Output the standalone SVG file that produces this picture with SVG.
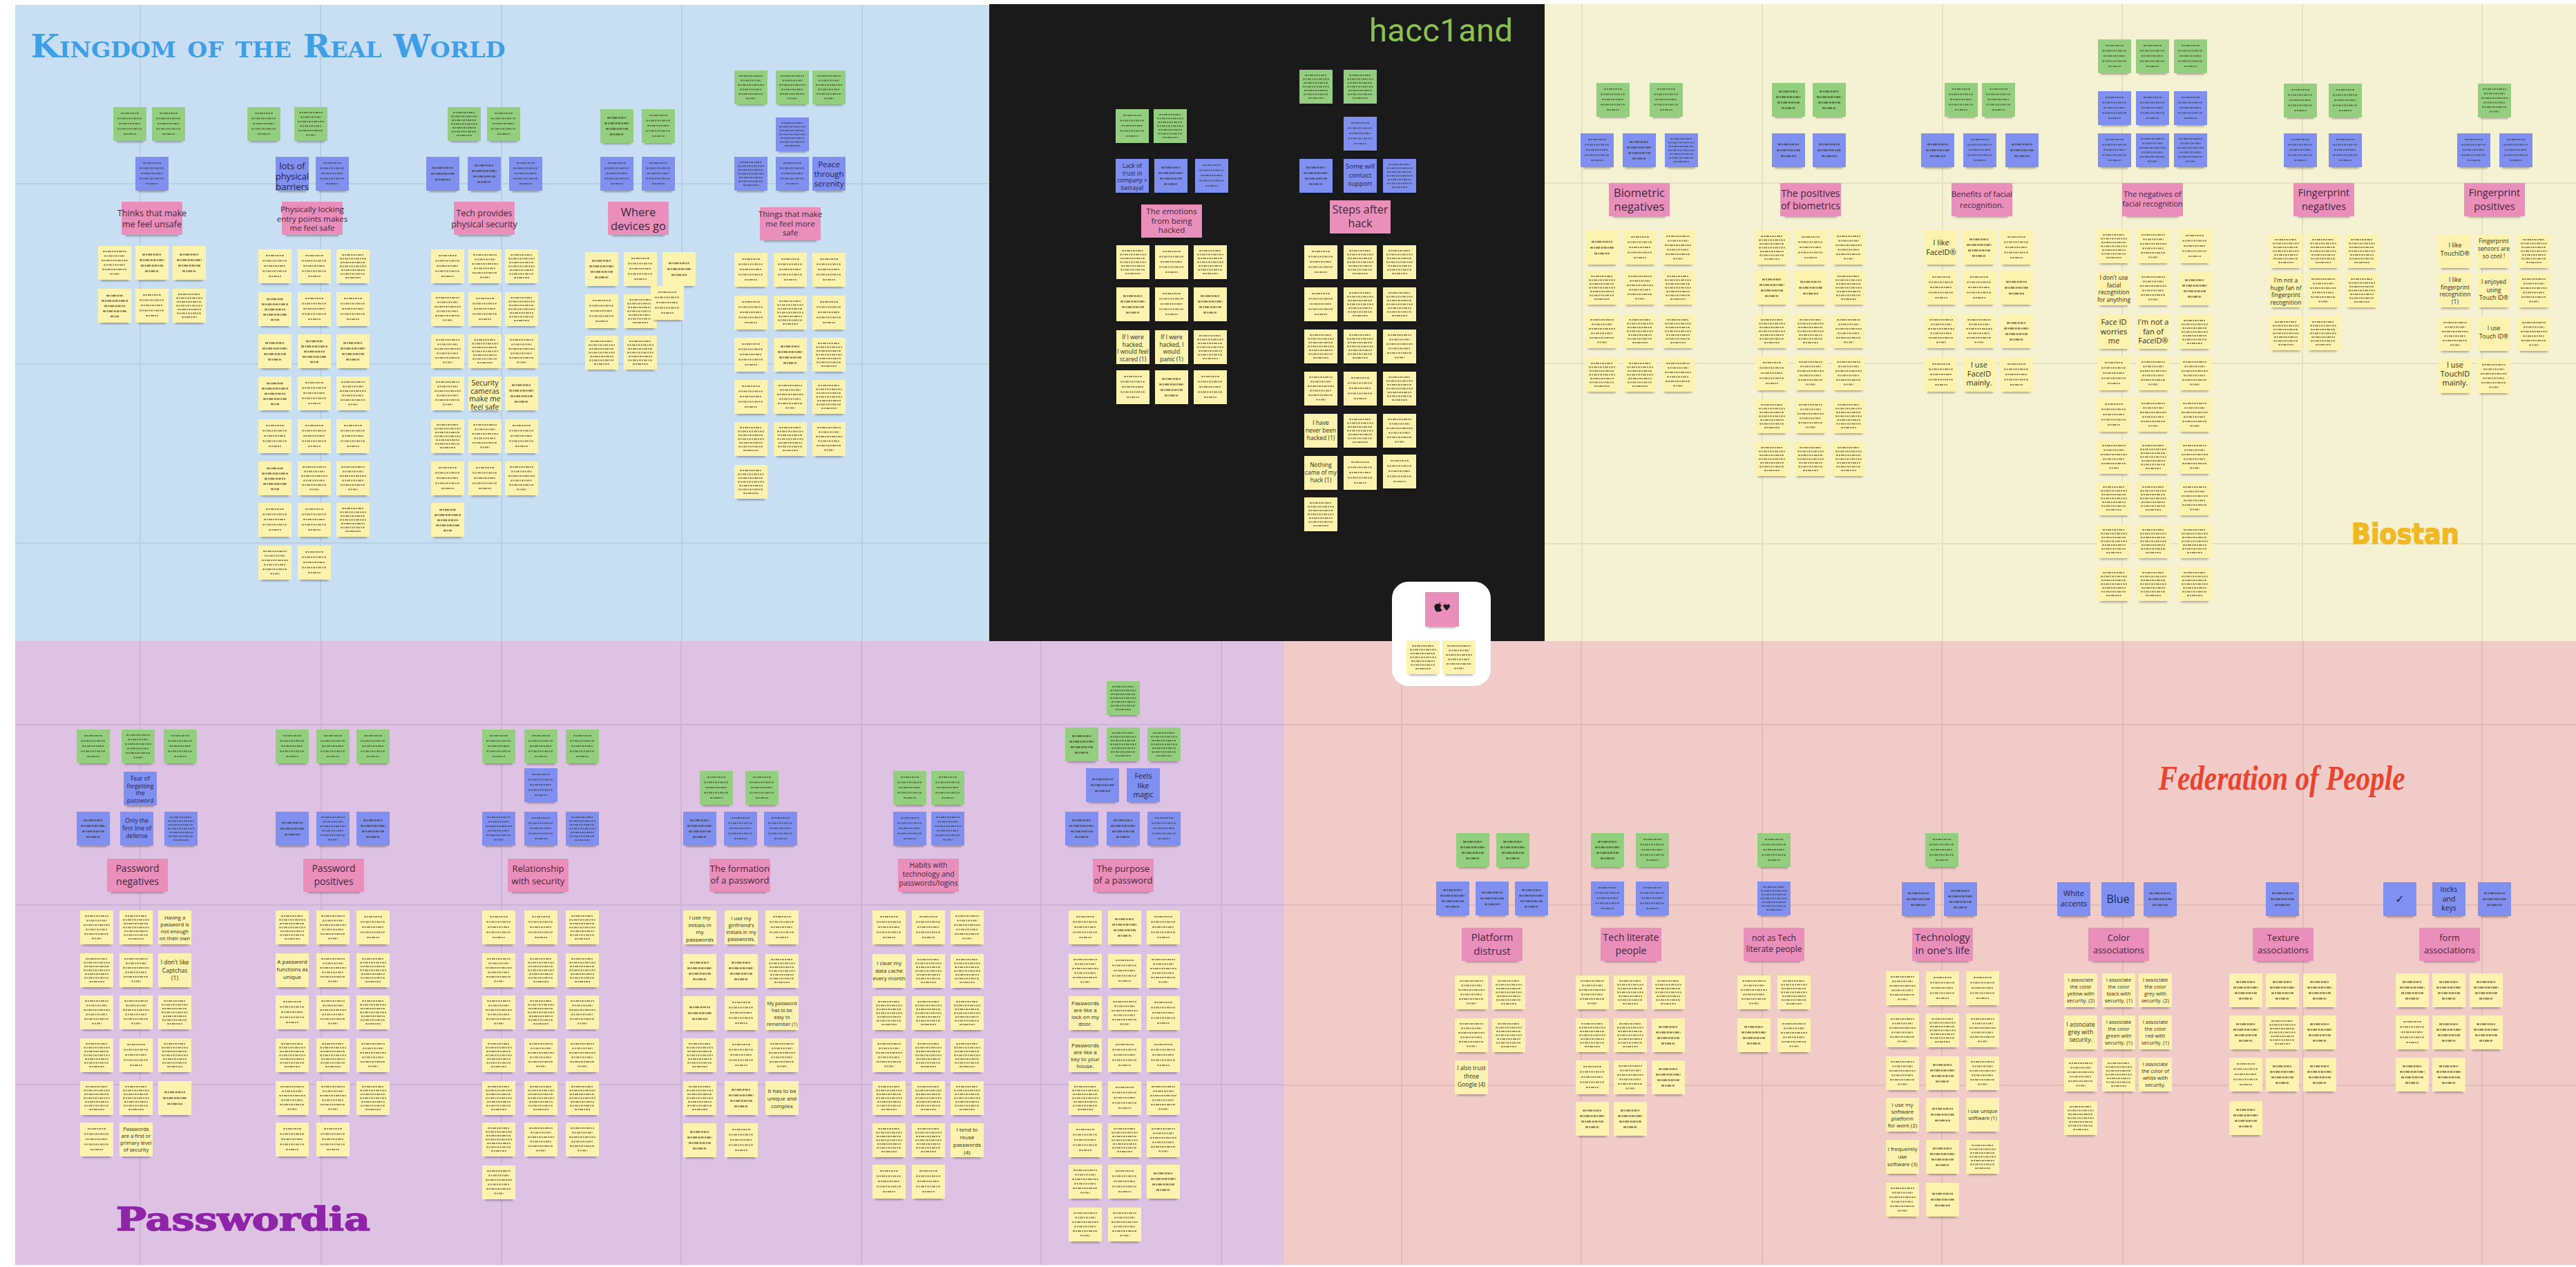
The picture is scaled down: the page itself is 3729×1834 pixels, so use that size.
<svg xmlns="http://www.w3.org/2000/svg" width="3729" height="1834" viewBox="0 0 3729 1834">
<style>
svg{font-size:10px}
.y{fill:#fdf3ae}.g{fill:#93cf7e}.b{fill:#7f90f0}.p{fill:#e98fba}
.sh{fill:#000;opacity:.3;filter:url(#bl)}
.gk{fill:none;stroke:#2c2a14;stroke-width:2.6;stroke-dasharray:4 1.2 2 1 6 1.4 3 1;opacity:.55;filter:url(#sf)}
.gs{fill:none;stroke:#2c2a14;stroke-width:1.8;stroke-dasharray:3 1 2 1 5 1 2 1;opacity:.5;filter:url(#sf)}
.ln{fill:none;stroke:#000;stroke-opacity:.07;stroke-width:2}
text{font-family:"Open Sans","Noto Sans",sans-serif;text-anchor:middle}
.s{fill:#2f2d18}
.m{fill:#1c2250}
.l{fill:#43263a}
</style>
<defs>
<filter id="bl" x="-20%" y="-100%" width="140%" height="300%"><feGaussianBlur stdDeviation="1.8"/></filter>
<filter id="sf" x="-10%" y="-10%" width="120%" height="120%"><feGaussianBlur stdDeviation=".45"/></filter>
<g id="t0"><rect class="sh" x="4" y="45" width="40" height="6"/><rect width="48" height="49"/></g>
<g id="t3"><use href="#t0"/><path class="gk" d="M9 16h30M7 24.500h34M13 33h22"/></g>
<g id="t4"><use href="#t0"/><path class="gk" d="M10 12.500h28M6 20.500h36M8 28.500h32M14 36.500h20"/></g>
<g id="t5"><use href="#t0"/><path class="gs" d="M11 9h26M6 16.500h36M8 24h32M6 31.500h36M15 39h18"/></g>
<g id="t6"><use href="#t0"/><path class="gs" d="M7 8h34M9 14.500h30M5 21h38M8 27.500h32M6 34h36M17 40.500h14"/></g>
<g id="t7"><use href="#t0"/><path class="gs" d="M8 8h32M5 13.500h38M6 19h36M5 24.500h38M7 30h34M6 35.500h36M13 41h22"/></g>
<g id="t8"><use href="#t0"/><path class="gk" d="M12 10h24M5 17.500h38M9 25h30M7 32.500h34M18 40h12"/></g>
<g id="tp"><rect class="sh" x="6" y="44" width="76" height="6"/><rect width="88" height="48"/></g>
</defs>
<rect width="3729" height="1834" fill="#fff"/>
<g id="panels">
<rect id="panel-real-world" x="22" y="7" width="1410" height="921" fill="#c8def2"/>
<rect id="panel-hacc1and" x="1432" y="6" width="804" height="922" fill="#1a1a1b"/>
<rect id="panel-biostan" x="2236" y="6" width="1493" height="922" fill="#f5f1d3"/>
<rect id="panel-passwordia" x="22" y="928" width="1836" height="903" fill="#dec2e3"/>
<rect id="panel-federation" x="1858" y="928" width="1871" height="903" fill="#f0cbc8"/>
</g>
<g id="grid">
<path class="ln" d="M203 7V928M464 7V928M726 7V928M987 7V928M1248 7V928M22 266H1432M22 527H1432M22 786H1432"/>
<path class="ln" d="M2290 6V928M2551 6V928M2812 6V928M3072 6V928M3333 6V928M3593 6V928M2236 265H3729M2236 526H3729M2236 787H3729"/>
<path class="ln" d="M203 928V1831M465 928V1831M726 928V1831M986 928V1831M1247 928V1831M1507 928V1831M1768 928V1831M22 1049H1858M22 1310H1858M22 1570H1858"/>
<path class="ln" d="M2029 928V1831M2289 928V1831M2551 928V1831M2811 928V1831M3073 928V1831M3334 928V1831M3593 928V1831M1858 1049H3729M1858 1310H3729M1858 1571H3729"/>
</g>
<g id="titles">
<text x="388" y="83" textLength="687" lengthAdjust="spacingAndGlyphs" style="font-family:'DejaVu Serif',serif;font-weight:bold;font-size:46px;font-variant:small-caps;fill:#3f9fe6">Kingdom of the Real World</text>
<text x="2086" y="60" textLength="208" style="font-family:Roboto,sans-serif;font-size:47px;fill:#8dc04f">hacc1and</text>
<text x="3482" y="787" textLength="156" lengthAdjust="spacingAndGlyphs" style="font-family:'DejaVu Sans',sans-serif;font-weight:bold;font-size:41px;fill:#f0b823;stroke:#f0b823;stroke-width:1.5">Biostan</text>
<text x="352" y="1781" textLength="368" lengthAdjust="spacingAndGlyphs" style="font-family:'DejaVu Serif',serif;font-weight:bold;font-size:46px;fill:#8e24a8;stroke:#8e24a8;stroke-width:1.5">Passwordia</text>
<text x="3303" y="1143" textLength="357" lengthAdjust="spacingAndGlyphs" style="font-family:'Liberation Serif',serif;font-style:italic;font-weight:bold;font-size:50px;fill:#e8442e">Federation of People</text>
</g>

<g id="c-a1">
<g id="a1g1"><use class="g" href="#t5" x="164" y="155"/></g><g id="a1g2"><use class="g" href="#t5" x="220" y="155"/></g>
<g id="a1b1"><use class="b" href="#t5" x="196" y="227"/></g>
<g id="a1p"><use class="p" href="#tp" x="176" y="292"/><text class="l" font-size="12.500" x="220" y="313">Thinks that make<tspan x="220" dy="16">me feel unsafe</tspan></text></g>
<g id="a1y1"><use class="y" href="#t6" x="142" y="356"/></g><g id="a1y2"><use class="y" href="#t4" x="196" y="356"/></g><g id="a1y3"><use class="y" href="#t4" x="250" y="356"/></g>
<g id="a1y4"><use class="y" href="#t8" x="142" y="418"/></g><g id="a1y5"><use class="y" href="#t5" x="196" y="418"/></g><g id="a1y6"><use class="y" href="#t7" x="250" y="418"/></g>
</g>

<g id="c-a2">
<g id="a2g1"><use class="g" href="#t5" x="358" y="155"/></g><g id="a2g2"><use class="g" href="#t6" x="426" y="155"/></g>
<g id="a2b1"><use class="b" href="#t0" x="399" y="227"/><text class="m" font-size="13" x="423" y="245">lots of<tspan x="423" dy="15">physical</tspan><tspan x="423" dy="15">barriers</tspan></text></g><g id="a2b2"><use class="b" href="#t5" x="457" y="227"/></g>
<g id="a2p"><use class="p" href="#tp" x="408" y="292"/><text class="l" font-size="11.500" x="452" y="307">Physically locking<tspan x="452" dy="13.500">entry points makes</tspan><tspan x="452" dy="13.500">me feel safe</tspan></text></g>
<g id="a2y1"><use class="y" href="#t5" x="374" y="361"/></g><g id="a2y2"><use class="y" href="#t5" x="431" y="361"/></g><g id="a2y3"><use class="y" href="#t7" x="487" y="361"/></g>
<g id="a2y4"><use class="y" href="#t8" x="374" y="423"/></g><g id="a2y5"><use class="y" href="#t5" x="431" y="423"/></g><g id="a2y6"><use class="y" href="#t5" x="487" y="423"/></g>
<g id="a2y7"><use class="y" href="#t4" x="374" y="484"/></g><g id="a2y8"><use class="y" href="#t8" x="431" y="484"/></g><g id="a2y9"><use class="y" href="#t4" x="487" y="484"/></g>
<g id="a2y10"><use class="y" href="#t8" x="374" y="545"/></g><g id="a2y11"><use class="y" href="#t5" x="431" y="545"/></g><g id="a2y12"><use class="y" href="#t6" x="487" y="545"/></g>
<g id="a2y13"><use class="y" href="#t5" x="374" y="607"/></g><g id="a2y14"><use class="y" href="#t5" x="431" y="607"/></g><g id="a2y15"><use class="y" href="#t5" x="487" y="607"/></g>
<g id="a2y16"><use class="y" href="#t8" x="374" y="668"/></g><g id="a2y17"><use class="y" href="#t6" x="431" y="668"/></g><g id="a2y18"><use class="y" href="#t6" x="487" y="668"/></g>
<g id="a2y19"><use class="y" href="#t5" x="374" y="728"/></g><g id="a2y20"><use class="y" href="#t5" x="431" y="728"/></g><g id="a2y21"><use class="y" href="#t7" x="487" y="728"/></g>
<g id="a2y22"><use class="y" href="#t6" x="374" y="790"/></g><g id="a2y23"><use class="y" href="#t5" x="431" y="790"/></g>
</g>

<g id="c-a3">
<g id="a3g1"><use class="g" href="#t7" x="648" y="155"/></g><g id="a3g2"><use class="g" href="#t5" x="705" y="155"/></g>
<g id="a3b1"><use class="b" href="#t3" x="617" y="227"/></g><g id="a3b2"><use class="b" href="#t4" x="677" y="227"/></g><g id="a3b3"><use class="b" href="#t5" x="737" y="227"/></g>
<g id="a3p"><use class="p" href="#tp" x="657" y="292"/><text class="l" font-size="12.500" x="701" y="313">Tech provides<tspan x="701" dy="16">physical security</tspan></text></g>
<g id="a3y1"><use class="y" href="#t5" x="624" y="361"/></g><g id="a3y2"><use class="y" href="#t6" x="678" y="361"/></g><g id="a3y3"><use class="y" href="#t7" x="731" y="361"/></g>
<g id="a3y4"><use class="y" href="#t6" x="624" y="423"/></g><g id="a3y5"><use class="y" href="#t5" x="678" y="423"/></g><g id="a3y6"><use class="y" href="#t7" x="731" y="423"/></g>
<g id="a3y7"><use class="y" href="#t6" x="624" y="484"/></g><g id="a3y8"><use class="y" href="#t7" x="678" y="484"/></g><g id="a3y9"><use class="y" href="#t6" x="731" y="484"/></g>
<g id="a3y10"><use class="y" href="#t6" x="624" y="545"/></g><g id="a3y11"><use class="y" href="#t0" x="678" y="545"/><text class="s" font-size="10.500" x="702" y="558">Security<tspan x="702" dy="11.500">cameras</tspan><tspan x="702" dy="11.500">make me</tspan><tspan x="702" dy="11.500">feel safe</tspan></text></g><g id="a3y12"><use class="y" href="#t4" x="731" y="545"/></g>
<g id="a3y13"><use class="y" href="#t7" x="624" y="607"/></g><g id="a3y14"><use class="y" href="#t6" x="678" y="607"/></g><g id="a3y15"><use class="y" href="#t5" x="731" y="607"/></g>
<g id="a3y16"><use class="y" href="#t5" x="624" y="668"/></g><g id="a3y17"><use class="y" href="#t5" x="678" y="668"/></g><g id="a3y18"><use class="y" href="#t6" x="731" y="668"/></g>
<g id="a3y19"><use class="y" href="#t8" x="624" y="728"/></g>
</g>

<g id="c-a4">
<g id="a4g1"><use class="g" href="#t4" x="869" y="158"/></g><g id="a4g2"><use class="g" href="#t5" x="929" y="158"/></g>
<g id="a4b1"><use class="b" href="#t5" x="869" y="227"/></g><g id="a4b2"><use class="b" href="#t5" x="929" y="227"/></g>
<g id="a4p"><use class="p" href="#tp" x="880" y="292"/><text class="l" font-size="16.500" x="924" y="313">Where<tspan x="924" dy="20">devices go</tspan></text></g>
<g id="a4y1"><use class="y" href="#t4" x="847" y="365"/></g><g id="a4y2"><use class="y" href="#t5" x="903" y="365"/></g><g id="a4y3"><use class="y" href="#t3" x="959" y="365"/></g>
<g id="a4y4"><use class="y" href="#t5" x="847" y="426"/></g><g id="a4y5"><use class="y" href="#t7" x="903" y="426"/></g><g id="a4y6"><use class="y" href="#t5" x="942" y="414"/></g>
<g id="a4y7"><use class="y" href="#t7" x="847" y="486"/></g><g id="a4y8"><use class="y" href="#t7" x="903" y="486"/></g>
</g>

<g id="c-a5">
<g id="a5g1"><use class="g" href="#t6" x="1063" y="102"/></g><g id="a5g2"><use class="g" href="#t6" x="1123" y="102"/></g><g id="a5g3"><use class="g" href="#t6" x="1176" y="102"/></g>
<g id="a5b0"><use class="b" href="#t7" x="1123" y="170"/></g>
<g id="a5b1"><use class="b" href="#t7" x="1063" y="227"/></g><g id="a5b2"><use class="b" href="#t5" x="1123" y="227"/></g><g id="a5b3"><use class="b" href="#t0" x="1176" y="227"/><text class="m" font-size="11.500" x="1200" y="242">Peace<tspan x="1200" dy="14">through</tspan><tspan x="1200" dy="14">serenity</tspan></text></g>
<g id="a5p"><use class="p" href="#tp" x="1100" y="300"/><text class="l" font-size="11.500" x="1144" y="314">Things that make<tspan x="1144" dy="13.500">me feel more</tspan><tspan x="1144" dy="13.500">safe</tspan></text></g>
<g id="a5y1"><use class="y" href="#t5" x="1063" y="366"/></g><g id="a5y2"><use class="y" href="#t5" x="1120" y="366"/></g><g id="a5y3"><use class="y" href="#t5" x="1176" y="366"/></g>
<g id="a5y4"><use class="y" href="#t5" x="1063" y="428"/></g><g id="a5y5"><use class="y" href="#t7" x="1120" y="428"/></g><g id="a5y6"><use class="y" href="#t5" x="1176" y="428"/></g>
<g id="a5y7"><use class="y" href="#t5" x="1063" y="489"/></g><g id="a5y8"><use class="y" href="#t4" x="1120" y="489"/></g><g id="a5y9"><use class="y" href="#t7" x="1176" y="489"/></g>
<g id="a5y10"><use class="y" href="#t5" x="1063" y="550"/></g><g id="a5y11"><use class="y" href="#t6" x="1120" y="550"/></g><g id="a5y12"><use class="y" href="#t7" x="1176" y="550"/></g>
<g id="a5y13"><use class="y" href="#t7" x="1063" y="611"/></g><g id="a5y14"><use class="y" href="#t7" x="1120" y="611"/></g><g id="a5y15"><use class="y" href="#t6" x="1176" y="611"/></g>
<g id="a5y16"><use class="y" href="#t7" x="1063" y="673"/></g>
</g>

<g id="c-b1">
<g id="b1g1"><use class="g" href="#t5" x="1615" y="158"/></g><g id="b1g2"><use class="g" href="#t7" x="1670" y="158"/></g>
<g id="b1b1"><use class="b" href="#t0" x="1615" y="230"/><text class="m" font-size="8.500" x="1639" y="243">Lack of<tspan x="1639" dy="10.500">trust in</tspan><tspan x="1639" dy="10.500">company ></tspan><tspan x="1639" dy="10.500">betrayal</tspan></text></g><g id="b1b2"><use class="b" href="#t4" x="1671" y="230"/></g><g id="b1b3"><use class="b" href="#t5" x="1730" y="230"/></g>
<g id="b1p"><use class="p" href="#tp" x="1652" y="296"/><text class="l" font-size="11.500" x="1696" y="310">The emotions<tspan x="1696" dy="13.500">from being</tspan><tspan x="1696" dy="13.500">hacked</tspan></text></g>
<g id="b1y1"><use class="y" href="#t7" x="1616" y="355"/></g><g id="b1y2"><use class="y" href="#t5" x="1672" y="355"/></g><g id="b1y3"><use class="y" href="#t7" x="1728" y="355"/></g>
<g id="b1y4"><use class="y" href="#t4" x="1616" y="416"/></g><g id="b1y5"><use class="y" href="#t5" x="1672" y="416"/></g><g id="b1y6"><use class="y" href="#t4" x="1728" y="416"/></g>
<g id="b1y7"><use class="y" href="#t0" x="1616" y="478"/><text class="s" font-size="8.500" x="1640" y="491">If I were<tspan x="1640" dy="10.500">hacked,</tspan><tspan x="1640" dy="10.500">I would feel</tspan><tspan x="1640" dy="10.500">scared (1)</tspan></text></g><g id="b1y8"><use class="y" href="#t0" x="1672" y="478"/><text class="s" font-size="8.500" x="1696" y="491">If I were<tspan x="1696" dy="10.500">hacked, I</tspan><tspan x="1696" dy="10.500">would</tspan><tspan x="1696" dy="10.500">panic (1)</tspan></text></g><g id="b1y9"><use class="y" href="#t7" x="1728" y="478"/></g>
<g id="b1y10"><use class="y" href="#t5" x="1616" y="536"/></g><g id="b1y11"><use class="y" href="#t4" x="1672" y="536"/></g><g id="b1y12"><use class="y" href="#t5" x="1728" y="536"/></g>
</g>

<g id="c-b2">
<g id="b2g1"><use class="g" href="#t7" x="1881" y="101"/></g><g id="b2g2"><use class="g" href="#t7" x="1945" y="101"/></g>
<g id="b2b0"><use class="b" href="#t5" x="1945" y="169"/></g>
<g id="b2b1"><use class="b" href="#t4" x="1881" y="230"/></g><g id="b2b2"><use class="b" href="#t0" x="1945" y="230"/><text class="m" font-size="9.500" x="1969" y="244">Some will<tspan x="1969" dy="12.500">contact</tspan><tspan x="1969" dy="12.500">support</tspan></text></g><g id="b2b3"><use class="b" href="#t7" x="2002" y="230"/></g>
<g id="b2p"><use class="p" href="#tp" x="1925" y="290"/><text class="l" font-size="16" x="1969" y="309">Steps after<tspan x="1969" dy="20">hack</tspan></text></g>
<g id="b2y1"><use class="y" href="#t5" x="1888" y="355"/></g><g id="b2y2"><use class="y" href="#t7" x="1945" y="355"/></g><g id="b2y3"><use class="y" href="#t7" x="2002" y="355"/></g>
<g id="b2y4"><use class="y" href="#t5" x="1888" y="416"/></g><g id="b2y5"><use class="y" href="#t7" x="1945" y="416"/></g><g id="b2y6"><use class="y" href="#t7" x="2002" y="416"/></g>
<g id="b2y7"><use class="y" href="#t7" x="1888" y="477"/></g><g id="b2y8"><use class="y" href="#t7" x="1945" y="477"/></g><g id="b2y9"><use class="y" href="#t6" x="2002" y="477"/></g>
<g id="b2y10"><use class="y" href="#t6" x="1888" y="538"/></g><g id="b2y11"><use class="y" href="#t5" x="1945" y="538"/></g><g id="b2y12"><use class="y" href="#t7" x="2002" y="538"/></g>
<g id="b2y13"><use class="y" href="#t0" x="1888" y="599"/><text class="s" font-size="8.500" x="1912" y="615">I have<tspan x="1912" dy="11">never been</tspan><tspan x="1912" dy="11">hacked (1)</tspan></text></g><g id="b2y14"><use class="y" href="#t7" x="1945" y="599"/></g><g id="b2y15"><use class="y" href="#t6" x="2002" y="599"/></g>
<g id="b2y16"><use class="y" href="#t0" x="1888" y="660"/><text class="s" font-size="8.500" x="1912" y="676">Nothing<tspan x="1912" dy="11">came of my</tspan><tspan x="1912" dy="11">hack (1)</tspan></text></g><g id="b2y17"><use class="y" href="#t5" x="1945" y="660"/></g><g id="b2y18"><use class="y" href="#t5" x="2002" y="658"/></g>
<g id="b2y19"><use class="y" href="#t7" x="1888" y="720"/></g>
</g>

<g id="c-c1">
<g id="c1g1"><use class="g" href="#t5" x="2311" y="120"/></g><g id="c1g2"><use class="g" href="#t5" x="2388" y="120"/></g>
<g id="c1b1"><use class="b" href="#t5" x="2288" y="193"/></g><g id="c1b2"><use class="b" href="#t4" x="2349" y="193"/></g><g id="c1b3"><use class="b" href="#t7" x="2410" y="193"/></g>
<g id="c1p"><use class="p" href="#tp" x="2329" y="265"/><text class="l" font-size="16.500" x="2373" y="285">Biometric<tspan x="2373" dy="20">negatives</tspan></text></g>
<g id="c1y1"><use class="y" href="#t3" x="2295" y="334"/></g><g id="c1y2"><use class="y" href="#t5" x="2350" y="334"/></g><g id="c1y3"><use class="y" href="#t6" x="2405" y="334"/></g>
<g id="c1y4"><use class="y" href="#t7" x="2295" y="392"/></g><g id="c1y5"><use class="y" href="#t6" x="2350" y="392"/></g><g id="c1y6"><use class="y" href="#t7" x="2405" y="392"/></g>
<g id="c1y7"><use class="y" href="#t6" x="2295" y="455"/></g><g id="c1y8"><use class="y" href="#t7" x="2350" y="455"/></g><g id="c1y9"><use class="y" href="#t7" x="2405" y="455"/></g>
<g id="c1y10"><use class="y" href="#t7" x="2295" y="518"/></g><g id="c1y11"><use class="y" href="#t7" x="2350" y="518"/></g><g id="c1y12"><use class="y" href="#t6" x="2405" y="518"/></g>
</g>

<g id="c-c2">
<g id="c2g1"><use class="g" href="#t4" x="2565" y="120"/></g><g id="c2g2"><use class="g" href="#t4" x="2624" y="120"/></g>
<g id="c2b1"><use class="b" href="#t3" x="2565" y="193"/></g><g id="c2b2"><use class="b" href="#t3" x="2624" y="193"/></g>
<g id="c2p"><use class="p" href="#tp" x="2577" y="265"/><text class="l" font-size="14" x="2621" y="285">The positives<tspan x="2621" dy="18">of biometrics</tspan></text></g>
<g id="c2y1"><use class="y" href="#t7" x="2541" y="334"/></g><g id="c2y2"><use class="y" href="#t5" x="2597" y="334"/></g><g id="c2y3"><use class="y" href="#t6" x="2652" y="334"/></g>
<g id="c2y4"><use class="y" href="#t4" x="2541" y="392"/></g><g id="c2y5"><use class="y" href="#t3" x="2597" y="392"/></g><g id="c2y6"><use class="y" href="#t7" x="2652" y="392"/></g>
<g id="c2y7"><use class="y" href="#t7" x="2541" y="455"/></g><g id="c2y8"><use class="y" href="#t7" x="2597" y="455"/></g><g id="c2y9"><use class="y" href="#t6" x="2652" y="455"/></g>
<g id="c2y10"><use class="y" href="#t5" x="2541" y="516"/></g><g id="c2y11"><use class="y" href="#t6" x="2597" y="516"/></g><g id="c2y12"><use class="y" href="#t6" x="2652" y="516"/></g>
<g id="c2y13"><use class="y" href="#t7" x="2541" y="578"/></g><g id="c2y14"><use class="y" href="#t6" x="2597" y="578"/></g><g id="c2y15"><use class="y" href="#t7" x="2652" y="578"/></g>
<g id="c2y16"><use class="y" href="#t7" x="2541" y="640"/></g><g id="c2y17"><use class="y" href="#t7" x="2597" y="640"/></g><g id="c2y18"><use class="y" href="#t7" x="2652" y="640"/></g>
</g>

<g id="c-c3">
<g id="c3g1"><use class="g" href="#t5" x="2815" y="120"/></g><g id="c3g2"><use class="g" href="#t5" x="2869" y="120"/></g>
<g id="c3b1"><use class="b" href="#t3" x="2781" y="193"/></g><g id="c3b2"><use class="b" href="#t5" x="2842" y="193"/></g><g id="c3b3"><use class="b" href="#t3" x="2903" y="193"/></g>
<g id="c3p"><use class="p" href="#tp" x="2825" y="265"/><text class="l" font-size="11.500" x="2869" y="285">Benefits of facial<tspan x="2869" dy="16">recognition.</tspan></text></g>
<g id="c3y1"><use class="y" href="#t0" x="2786" y="334"/><text class="s" font-size="11" x="2810" y="355">I like<tspan x="2810" dy="14">FaceID®</tspan></text></g><g id="c3y2"><use class="y" href="#t4" x="2841" y="334"/></g><g id="c3y3"><use class="y" href="#t5" x="2895" y="334"/></g>
<g id="c3y4"><use class="y" href="#t5" x="2786" y="392"/></g><g id="c3y5"><use class="y" href="#t5" x="2841" y="392"/></g><g id="c3y6"><use class="y" href="#t3" x="2895" y="392"/></g>
<g id="c3y7"><use class="y" href="#t6" x="2786" y="455"/></g><g id="c3y8"><use class="y" href="#t6" x="2841" y="455"/></g><g id="c3y9"><use class="y" href="#t4" x="2895" y="455"/></g>
<g id="c3y10"><use class="y" href="#t5" x="2786" y="518"/></g><g id="c3y11"><use class="y" href="#t0" x="2841" y="518"/><text class="s" font-size="11" x="2865" y="532">I use<tspan x="2865" dy="13">FaceID</tspan><tspan x="2865" dy="13">mainly.</tspan></text></g><g id="c3y12"><use class="y" href="#t5" x="2895" y="518"/></g>
</g>

<g id="c-c4">
<g id="c4g1"><use class="g" href="#t5" x="3037" y="57"/></g><g id="c4g2"><use class="g" href="#t5" x="3092" y="57"/></g><g id="c4g3"><use class="g" href="#t5" x="3147" y="57"/></g>
<g id="c4b1"><use class="b" href="#t5" x="3037" y="132"/></g><g id="c4b2"><use class="b" href="#t5" x="3092" y="132"/></g><g id="c4b3"><use class="b" href="#t5" x="3147" y="132"/></g>
<g id="c4b4"><use class="b" href="#t5" x="3037" y="193"/></g><g id="c4b5"><use class="b" href="#t6" x="3092" y="193"/></g><g id="c4b6"><use class="b" href="#t6" x="3147" y="193"/></g>
<g id="c4p"><use class="p" href="#tp" x="3072" y="265"/><text class="l" font-size="11" x="3116" y="285">The negatives of<tspan x="3116" dy="14">facial recognition</tspan></text></g>
<g id="c4y1"><use class="y" href="#t7" x="3036" y="332"/></g><g id="c4y2"><use class="y" href="#t6" x="3093" y="332"/></g><g id="c4y3"><use class="y" href="#t5" x="3153" y="332"/></g>
<g id="c4y4"><use class="y" href="#t0" x="3036" y="393"/><text class="s" font-size="8.500" x="3060" y="405">I don't use<tspan x="3060" dy="10.500">facial</tspan><tspan x="3060" dy="10.500">recognition</tspan><tspan x="3060" dy="10.500">for anything</tspan></text></g><g id="c4y5"><use class="y" href="#t6" x="3093" y="393"/></g><g id="c4y6"><use class="y" href="#t4" x="3153" y="393"/></g>
<g id="c4y7"><use class="y" href="#t0" x="3036" y="456"/><text class="s" font-size="11" x="3060" y="470">Face ID<tspan x="3060" dy="13.500">worries</tspan><tspan x="3060" dy="13.500">me</tspan></text></g><g id="c4y8"><use class="y" href="#t0" x="3093" y="456"/><text class="s" font-size="11" x="3117" y="470">I'm not a<tspan x="3117" dy="13.500">fan of</tspan><tspan x="3117" dy="13.500">FaceID®</tspan></text></g><g id="c4y9"><use class="y" href="#t7" x="3153" y="456"/></g>
<g id="c4y10"><use class="y" href="#t5" x="3036" y="516"/></g><g id="c4y11"><use class="y" href="#t6" x="3093" y="516"/></g><g id="c4y12"><use class="y" href="#t6" x="3153" y="516"/></g>
<g id="c4y13"><use class="y" href="#t5" x="3036" y="576"/></g><g id="c4y14"><use class="y" href="#t6" x="3093" y="576"/></g><g id="c4y15"><use class="y" href="#t6" x="3153" y="576"/></g>
<g id="c4y16"><use class="y" href="#t6" x="3036" y="637"/></g><g id="c4y17"><use class="y" href="#t7" x="3093" y="637"/></g><g id="c4y18"><use class="y" href="#t6" x="3153" y="637"/></g>
<g id="c4y19"><use class="y" href="#t7" x="3036" y="697"/></g><g id="c4y20"><use class="y" href="#t7" x="3093" y="697"/></g><g id="c4y21"><use class="y" href="#t6" x="3153" y="697"/></g>
<g id="c4y22"><use class="y" href="#t7" x="3036" y="759"/></g><g id="c4y23"><use class="y" href="#t7" x="3093" y="759"/></g><g id="c4y24"><use class="y" href="#t7" x="3153" y="759"/></g>
<g id="c4y25"><use class="y" href="#t7" x="3036" y="821"/></g><g id="c4y26"><use class="y" href="#t7" x="3093" y="821"/></g><g id="c4y27"><use class="y" href="#t7" x="3153" y="821"/></g>
</g>

<g id="c-c5">
<g id="c5g1"><use class="g" href="#t5" x="3306" y="121"/></g><g id="c5g2"><use class="g" href="#t5" x="3371" y="121"/></g>
<g id="c5b1"><use class="b" href="#t5" x="3306" y="193"/></g><g id="c5b2"><use class="b" href="#t5" x="3371" y="193"/></g>
<g id="c5p"><use class="p" href="#tp" x="3320" y="265"/><text class="l" font-size="14.500" x="3364" y="284">Fingerprint<tspan x="3364" dy="20">negatives</tspan></text></g>
<g id="c5y1"><use class="y" href="#t7" x="3285" y="339"/></g><g id="c5y2"><use class="y" href="#t7" x="3339" y="339"/></g><g id="c5y3"><use class="y" href="#t7" x="3395" y="339"/></g>
<g id="c5y4"><use class="y" href="#t0" x="3285" y="396"/><text class="s" font-size="8.500" x="3309" y="409">I'm not a<tspan x="3309" dy="10.500">huge fan of</tspan><tspan x="3309" dy="10.500">fingerprint</tspan><tspan x="3309" dy="10.500">recognition</tspan></text></g><g id="c5y5"><use class="y" href="#t6" x="3339" y="396"/></g><g id="c5y6"><use class="y" href="#t7" x="3395" y="396"/></g>
<g id="c5y7"><use class="y" href="#t7" x="3285" y="458"/></g><g id="c5y8"><use class="y" href="#t7" x="3339" y="458"/></g>
</g>

<g id="c-c6">
<g id="c6g1"><use class="g" href="#t6" x="3587" y="121"/></g>
<g id="c6b1"><use class="b" href="#t5" x="3557" y="193"/></g><g id="c6b2"><use class="b" href="#t5" x="3618" y="193"/></g>
<g id="c6p"><use class="p" href="#tp" x="3567" y="265"/><text class="l" font-size="14.500" x="3611" y="284">Fingerprint<tspan x="3611" dy="20">positives</tspan></text></g>
<g id="c6y1"><use class="y" href="#t0" x="3530" y="339"/><text class="s" font-size="9" x="3554" y="358">I like<tspan x="3554" dy="12">TouchID®</tspan></text></g><g id="c6y2"><use class="y" href="#t0" x="3586" y="339"/><text class="s" font-size="8.500" x="3610" y="352">Fingerprint<tspan x="3610" dy="11">sensors are</tspan><tspan x="3610" dy="11">so cool !</tspan></text></g><g id="c6y3"><use class="y" href="#t7" x="3644" y="339"/></g>
<g id="c6y4"><use class="y" href="#t0" x="3530" y="396"/><text class="s" font-size="8.500" x="3554" y="408">I like<tspan x="3554" dy="10.500">fingerprint</tspan><tspan x="3554" dy="10.500">recognition</tspan><tspan x="3554" dy="10.500">(1)</tspan></text></g><g id="c6y5"><use class="y" href="#t0" x="3586" y="396"/><text class="s" font-size="8.500" x="3610" y="411">I enjoyed<tspan x="3610" dy="11.500">using</tspan><tspan x="3610" dy="11.500">Touch ID®</tspan></text></g><g id="c6y6"><use class="y" href="#t6" x="3644" y="396"/></g>
<g id="c6y7"><use class="y" href="#t6" x="3530" y="459"/></g><g id="c6y8"><use class="y" href="#t0" x="3586" y="459"/><text class="s" font-size="8.500" x="3610" y="478">I use<tspan x="3610" dy="12">Touch ID®</tspan></text></g><g id="c6y9"><use class="y" href="#t6" x="3644" y="459"/></g>
<g id="c6y10"><use class="y" href="#t0" x="3530" y="520"/><text class="s" font-size="11" x="3554" y="532">I use<tspan x="3554" dy="13">TouchID</tspan><tspan x="3554" dy="13">mainly.</tspan></text></g><g id="c6y11"><use class="y" href="#t6" x="3586" y="520"/></g>
</g>

<g id="c-d1">
<g id="d1g1"><use class="g" href="#t5" x="111" y="1056"/></g><g id="d1g2"><use class="g" href="#t6" x="176" y="1056"/></g><g id="d1g3"><use class="g" href="#t5" x="237" y="1056"/></g>
<g id="d1b0"><use class="b" href="#t0" x="179" y="1117"/><text class="m" font-size="8.500" x="203" y="1130">Fear of<tspan x="203" dy="10.500">forgetting</tspan><tspan x="203" dy="10.500">the</tspan><tspan x="203" dy="10.500">password</tspan></text></g>
<g id="d1b1"><use class="b" href="#t4" x="111" y="1175"/></g><g id="d1b2"><use class="b" href="#t0" x="174" y="1175"/><text class="m" font-size="8.500" x="198" y="1191">Only the<tspan x="198" dy="11">first line of</tspan><tspan x="198" dy="11">defense</tspan></text></g><g id="d1b3"><use class="b" href="#t7" x="238" y="1175"/></g>
<g id="d1p"><use class="p" href="#tp" x="155" y="1243"/><text class="l" font-size="14" x="199" y="1262">Password<tspan x="199" dy="19">negatives</tspan></text></g>
<g id="d1y1"><use class="y" href="#t6" x="116" y="1318"/></g><g id="d1y2"><use class="y" href="#t7" x="173" y="1318"/></g><g id="d1y3"><use class="y" href="#t0" x="229" y="1318"/><text class="s" font-size="7.500" x="253" y="1331">Having a<tspan x="253" dy="10">password is</tspan><tspan x="253" dy="10">not enough</tspan><tspan x="253" dy="10">on their own</tspan></text></g>
<g id="d1y4"><use class="y" href="#t7" x="116" y="1380"/></g><g id="d1y5"><use class="y" href="#t6" x="173" y="1380"/></g><g id="d1y6"><use class="y" href="#t0" x="229" y="1380"/><text class="s" font-size="8.500" x="253" y="1396">I don't like<tspan x="253" dy="11.500">Captchas</tspan><tspan x="253" dy="11.500">(1)</tspan></text></g>
<g id="d1y7"><use class="y" href="#t6" x="116" y="1441"/></g><g id="d1y8"><use class="y" href="#t6" x="173" y="1441"/></g><g id="d1y9"><use class="y" href="#t7" x="229" y="1441"/></g>
<g id="d1y10"><use class="y" href="#t7" x="116" y="1503"/></g><g id="d1y11"><use class="y" href="#t5" x="173" y="1503"/></g><g id="d1y12"><use class="y" href="#t7" x="229" y="1503"/></g>
<g id="d1y13"><use class="y" href="#t7" x="116" y="1565"/></g><g id="d1y14"><use class="y" href="#t7" x="173" y="1565"/></g><g id="d1y15"><use class="y" href="#t3" x="229" y="1565"/></g>
<g id="d1y16"><use class="y" href="#t5" x="116" y="1625"/></g><g id="d1y17"><use class="y" href="#t0" x="173" y="1625"/><text class="s" font-size="7.500" x="197" y="1637">Passwords<tspan x="197" dy="10">are a first or</tspan><tspan x="197" dy="10">primary level</tspan><tspan x="197" dy="10">of security</tspan></text></g>
</g>

<g id="c-d2">
<g id="d2g1"><use class="g" href="#t5" x="399" y="1056"/></g><g id="d2g2"><use class="g" href="#t5" x="458" y="1056"/></g><g id="d2g3"><use class="g" href="#t5" x="516" y="1056"/></g>
<g id="d2b1"><use class="b" href="#t3" x="399" y="1175"/></g><g id="d2b2"><use class="b" href="#t6" x="458" y="1175"/></g><g id="d2b3"><use class="b" href="#t4" x="516" y="1175"/></g>
<g id="d2p"><use class="p" href="#tp" x="439" y="1243"/><text class="l" font-size="14" x="483" y="1262">Password<tspan x="483" dy="19">positives</tspan></text></g>
<g id="d2y1"><use class="y" href="#t7" x="399" y="1318"/></g><g id="d2y2"><use class="y" href="#t6" x="458" y="1318"/></g><g id="d2y3"><use class="y" href="#t5" x="516" y="1318"/></g>
<g id="d2y4"><use class="y" href="#t0" x="399" y="1380"/><text class="s" font-size="8" x="423" y="1395">A password<tspan x="423" dy="11">functions as</tspan><tspan x="423" dy="11">unique</tspan></text></g><g id="d2y5"><use class="y" href="#t6" x="458" y="1380"/></g><g id="d2y6"><use class="y" href="#t7" x="516" y="1380"/></g>
<g id="d2y7"><use class="y" href="#t5" x="399" y="1441"/></g><g id="d2y8"><use class="y" href="#t6" x="458" y="1441"/></g><g id="d2y9"><use class="y" href="#t7" x="516" y="1441"/></g>
<g id="d2y10"><use class="y" href="#t7" x="399" y="1503"/></g><g id="d2y11"><use class="y" href="#t7" x="458" y="1503"/></g><g id="d2y12"><use class="y" href="#t6" x="516" y="1503"/></g>
<g id="d2y13"><use class="y" href="#t6" x="399" y="1565"/></g><g id="d2y14"><use class="y" href="#t6" x="458" y="1565"/></g><g id="d2y15"><use class="y" href="#t7" x="516" y="1565"/></g>
<g id="d2y16"><use class="y" href="#t5" x="399" y="1625"/></g><g id="d2y17"><use class="y" href="#t5" x="458" y="1625"/></g>
</g>

<g id="c-d3">
<g id="d3g1"><use class="g" href="#t5" x="698" y="1056"/></g><g id="d3g2"><use class="g" href="#t5" x="759" y="1056"/></g><g id="d3g3"><use class="g" href="#t5" x="819" y="1056"/></g>
<g id="d3b0"><use class="b" href="#t5" x="759" y="1112"/></g>
<g id="d3b1"><use class="b" href="#t6" x="698" y="1175"/></g><g id="d3b2"><use class="b" href="#t5" x="759" y="1175"/></g><g id="d3b3"><use class="b" href="#t7" x="819" y="1175"/></g>
<g id="d3p"><use class="p" href="#tp" x="735" y="1243"/><text class="l" font-size="13" x="779" y="1262">Relationship<tspan x="779" dy="18">with security</tspan></text></g>
<g id="d3y1"><use class="y" href="#t5" x="698" y="1318"/></g><g id="d3y2"><use class="y" href="#t5" x="759" y="1318"/></g><g id="d3y3"><use class="y" href="#t7" x="819" y="1318"/></g>
<g id="d3y4"><use class="y" href="#t6" x="698" y="1380"/></g><g id="d3y5"><use class="y" href="#t7" x="759" y="1380"/></g><g id="d3y6"><use class="y" href="#t7" x="819" y="1380"/></g>
<g id="d3y7"><use class="y" href="#t6" x="698" y="1441"/></g><g id="d3y8"><use class="y" href="#t7" x="759" y="1441"/></g><g id="d3y9"><use class="y" href="#t6" x="819" y="1441"/></g>
<g id="d3y10"><use class="y" href="#t7" x="698" y="1503"/></g><g id="d3y11"><use class="y" href="#t6" x="759" y="1503"/></g><g id="d3y12"><use class="y" href="#t6" x="819" y="1503"/></g>
<g id="d3y13"><use class="y" href="#t7" x="698" y="1565"/></g><g id="d3y14"><use class="y" href="#t7" x="759" y="1565"/></g><g id="d3y15"><use class="y" href="#t7" x="819" y="1565"/></g>
<g id="d3y16"><use class="y" href="#t7" x="698" y="1625"/></g><g id="d3y17"><use class="y" href="#t6" x="759" y="1625"/></g><g id="d3y18"><use class="y" href="#t6" x="819" y="1625"/></g>
<g id="d3y19"><use class="y" href="#t6" x="698" y="1687"/></g>
</g>

<g id="c-d4">
<g id="d4g1"><use class="g" href="#t5" x="1013" y="1116"/></g><g id="d4g2"><use class="g" href="#t5" x="1079" y="1116"/></g>
<g id="d4b1"><use class="b" href="#t4" x="989" y="1175"/></g><g id="d4b2"><use class="b" href="#t5" x="1048" y="1175"/></g><g id="d4b3"><use class="b" href="#t5" x="1106" y="1175"/></g>
<g id="d4p"><use class="p" href="#tp" x="1027" y="1243"/><text class="l" font-size="13" x="1071" y="1262">The formation<tspan x="1071" dy="17">of a password</tspan></text></g>
<g id="d4y1"><use class="y" href="#t0" x="989" y="1318"/><text class="s" font-size="8" x="1013" y="1331">I use my<tspan x="1013" dy="10.500">initials in</tspan><tspan x="1013" dy="10.500">my</tspan><tspan x="1013" dy="10.500">passwords</tspan></text></g><g id="d4y2"><use class="y" href="#t0" x="1049" y="1318"/><text class="s" font-size="7.500" x="1073" y="1332">I use my<tspan x="1073" dy="10">girlfriend's</tspan><tspan x="1073" dy="10">initials in my</tspan><tspan x="1073" dy="10">passwords.</tspan></text></g><g id="d4y3"><use class="y" href="#t5" x="1108" y="1318"/></g>
<g id="d4y4"><use class="y" href="#t4" x="989" y="1381"/></g><g id="d4y5"><use class="y" href="#t4" x="1049" y="1381"/></g><g id="d4y6"><use class="y" href="#t7" x="1108" y="1381"/></g>
<g id="d4y7"><use class="y" href="#t3" x="989" y="1442"/></g><g id="d4y8"><use class="y" href="#t5" x="1049" y="1442"/></g><g id="d4y9"><use class="y" href="#t0" x="1108" y="1442"/><text class="s" font-size="7" x="1132" y="1455">My password<tspan x="1132" dy="10">has to be</tspan><tspan x="1132" dy="10">easy to</tspan><tspan x="1132" dy="10">remember (1)</tspan></text></g>
<g id="d4y10"><use class="y" href="#t7" x="989" y="1503"/></g><g id="d4y11"><use class="y" href="#t5" x="1049" y="1503"/></g><g id="d4y12"><use class="y" href="#t6" x="1108" y="1503"/></g>
<g id="d4y13"><use class="y" href="#t7" x="989" y="1565"/></g><g id="d4y14"><use class="y" href="#t4" x="1049" y="1565"/></g><g id="d4y15"><use class="y" href="#t0" x="1108" y="1565"/><text class="s" font-size="8" x="1132" y="1582">It has to be<tspan x="1132" dy="11">unique and</tspan><tspan x="1132" dy="11">complex</tspan></text></g>
<g id="d4y16"><use class="y" href="#t4" x="989" y="1626"/></g><g id="d4y17"><use class="y" href="#t5" x="1049" y="1626"/></g>
</g>

<g id="c-d5">
<g id="d5g1"><use class="g" href="#t5" x="1293" y="1116"/></g><g id="d5g2"><use class="g" href="#t5" x="1348" y="1116"/></g>
<g id="d5b1"><use class="b" href="#t5" x="1293" y="1175"/></g><g id="d5b2"><use class="b" href="#t6" x="1348" y="1175"/></g>
<g id="d5p"><use class="p" href="#tp" x="1300" y="1243"/><text class="l" font-size="10.500" x="1344" y="1256">Habits with<tspan x="1344" dy="13">technology and</tspan><tspan x="1344" dy="13">passwords/logins</tspan></text></g>
<g id="d5y1"><use class="y" href="#t5" x="1263" y="1318"/></g><g id="d5y2"><use class="y" href="#t5" x="1320" y="1318"/></g><g id="d5y3"><use class="y" href="#t6" x="1376" y="1318"/></g>
<g id="d5y4"><use class="y" href="#t0" x="1263" y="1381"/><text class="s" font-size="8" x="1287" y="1397">I clear my<tspan x="1287" dy="11">data cache</tspan><tspan x="1287" dy="11">every month</tspan></text></g><g id="d5y5"><use class="y" href="#t7" x="1320" y="1381"/></g><g id="d5y6"><use class="y" href="#t7" x="1376" y="1381"/></g>
<g id="d5y7"><use class="y" href="#t7" x="1263" y="1442"/></g><g id="d5y8"><use class="y" href="#t7" x="1320" y="1442"/></g><g id="d5y9"><use class="y" href="#t7" x="1376" y="1442"/></g>
<g id="d5y10"><use class="y" href="#t6" x="1263" y="1503"/></g><g id="d5y11"><use class="y" href="#t7" x="1320" y="1503"/></g><g id="d5y12"><use class="y" href="#t7" x="1376" y="1503"/></g>
<g id="d5y13"><use class="y" href="#t7" x="1263" y="1565"/></g><g id="d5y14"><use class="y" href="#t7" x="1320" y="1565"/></g><g id="d5y15"><use class="y" href="#t7" x="1376" y="1565"/></g>
<g id="d5y16"><use class="y" href="#t7" x="1263" y="1626"/></g><g id="d5y17"><use class="y" href="#t7" x="1320" y="1626"/></g><g id="d5y18"><use class="y" href="#t0" x="1376" y="1626"/><text class="s" font-size="8" x="1400" y="1638">I tend to<tspan x="1400" dy="11">reuse</tspan><tspan x="1400" dy="11">passwords</tspan><tspan x="1400" dy="11">(4)</tspan></text></g>
<g id="d5y19"><use class="y" href="#t5" x="1263" y="1686"/></g><g id="d5y20"><use class="y" href="#t5" x="1320" y="1686"/></g>
</g>

<g id="c-d6">
<g id="d6g0"><use class="g" href="#t7" x="1602" y="986"/></g>
<g id="d6g1"><use class="g" href="#t4" x="1542" y="1053"/></g><g id="d6g2"><use class="g" href="#t7" x="1602" y="1053"/></g><g id="d6g3"><use class="g" href="#t7" x="1661" y="1053"/></g>
<g id="d6b4"><use class="b" href="#t3" x="1572" y="1112"/></g><g id="d6b5"><use class="b" href="#t0" x="1631" y="1112"/><text class="m" font-size="10.500" x="1655" y="1127">Feels<tspan x="1655" dy="13.500">like</tspan><tspan x="1655" dy="13.500">magic</tspan></text></g>
<g id="d6b1"><use class="b" href="#t4" x="1542" y="1175"/></g><g id="d6b2"><use class="b" href="#t4" x="1602" y="1175"/></g><g id="d6b3"><use class="b" href="#t5" x="1661" y="1175"/></g>
<g id="d6p"><use class="p" href="#tp" x="1582" y="1243"/><text class="l" font-size="13" x="1626" y="1262">The purpose<tspan x="1626" dy="17">of a password</tspan></text></g>
<g id="d6y1"><use class="y" href="#t5" x="1547" y="1318"/></g><g id="d6y2"><use class="y" href="#t4" x="1604" y="1318"/></g><g id="d6y3"><use class="y" href="#t5" x="1660" y="1318"/></g>
<g id="d6y4"><use class="y" href="#t6" x="1547" y="1381"/></g><g id="d6y5"><use class="y" href="#t5" x="1604" y="1381"/></g><g id="d6y6"><use class="y" href="#t6" x="1660" y="1381"/></g>
<g id="d6y7"><use class="y" href="#t0" x="1547" y="1442"/><text class="s" font-size="8" x="1571" y="1455">Passwords<tspan x="1571" dy="10">are like a</tspan><tspan x="1571" dy="10">lock on my</tspan><tspan x="1571" dy="10">door.</tspan></text></g><g id="d6y8"><use class="y" href="#t6" x="1604" y="1442"/></g><g id="d6y9"><use class="y" href="#t5" x="1660" y="1442"/></g>
<g id="d6y10"><use class="y" href="#t0" x="1547" y="1503"/><text class="s" font-size="8" x="1571" y="1516">Passwords<tspan x="1571" dy="10">are like a</tspan><tspan x="1571" dy="10">key to your</tspan><tspan x="1571" dy="10">house.</tspan></text></g><g id="d6y11"><use class="y" href="#t5" x="1604" y="1503"/></g><g id="d6y12"><use class="y" href="#t5" x="1660" y="1503"/></g>
<g id="d6y13"><use class="y" href="#t7" x="1547" y="1565"/></g><g id="d6y14"><use class="y" href="#t5" x="1604" y="1565"/></g><g id="d6y15"><use class="y" href="#t6" x="1660" y="1565"/></g>
<g id="d6y16"><use class="y" href="#t5" x="1547" y="1626"/></g><g id="d6y17"><use class="y" href="#t7" x="1604" y="1626"/></g><g id="d6y18"><use class="y" href="#t6" x="1660" y="1626"/></g>
<g id="d6y19"><use class="y" href="#t6" x="1547" y="1686"/></g><g id="d6y20"><use class="y" href="#t5" x="1604" y="1686"/></g><g id="d6y21"><use class="y" href="#t4" x="1660" y="1686"/></g>
<g id="d6y22"><use class="y" href="#t6" x="1547" y="1748"/></g><g id="d6y23"><use class="y" href="#t6" x="1604" y="1748"/></g>
</g>

<g id="c-e1">
<g id="e1g1"><use class="g" href="#t4" x="2108" y="1206"/></g><g id="e1g2"><use class="g" href="#t4" x="2166" y="1206"/></g>
<g id="e1b1"><use class="b" href="#t4" x="2079" y="1276"/></g><g id="e1b2"><use class="b" href="#t3" x="2136" y="1276"/></g><g id="e1b3"><use class="b" href="#t4" x="2193" y="1276"/></g>
<g id="e1p"><use class="p" href="#tp" x="2116" y="1343"/><text class="l" font-size="15" x="2160" y="1362">Platform<tspan x="2160" dy="20">distrust</tspan></text></g>
<g id="e1y1"><use class="y" href="#t6" x="2106" y="1412"/></g><g id="e1y2"><use class="y" href="#t7" x="2160" y="1412"/></g>
<g id="e1y3"><use class="y" href="#t6" x="2106" y="1474"/></g><g id="e1y4"><use class="y" href="#t7" x="2160" y="1474"/></g>
<g id="e1y5"><use class="y" href="#t0" x="2106" y="1535"/><text class="s" font-size="8.500" x="2130" y="1549">I also trust<tspan x="2130" dy="12">those</tspan><tspan x="2130" dy="12">Google (4)</tspan></text></g>
</g>

<g id="c-e2">
<g id="e2g1"><use class="g" href="#t4" x="2303" y="1206"/></g><g id="e2g2"><use class="g" href="#t5" x="2368" y="1206"/></g>
<g id="e2b1"><use class="b" href="#t5" x="2303" y="1276"/></g><g id="e2b2"><use class="b" href="#t5" x="2368" y="1276"/></g>
<g id="e2p"><use class="p" href="#tp" x="2317" y="1343"/><text class="l" font-size="14" x="2361" y="1362">Tech literate<tspan x="2361" dy="19">people</tspan></text></g>
<g id="e2y1"><use class="y" href="#t6" x="2281" y="1412"/></g><g id="e2y2"><use class="y" href="#t7" x="2336" y="1412"/></g><g id="e2y3"><use class="y" href="#t7" x="2391" y="1412"/></g>
<g id="e2y4"><use class="y" href="#t7" x="2281" y="1474"/></g><g id="e2y5"><use class="y" href="#t7" x="2336" y="1474"/></g><g id="e2y6"><use class="y" href="#t4" x="2391" y="1474"/></g>
<g id="e2y7"><use class="y" href="#t5" x="2281" y="1535"/></g><g id="e2y8"><use class="y" href="#t6" x="2336" y="1535"/></g><g id="e2y9"><use class="y" href="#t4" x="2391" y="1535"/></g>
<g id="e2y10"><use class="y" href="#t4" x="2281" y="1595"/></g><g id="e2y11"><use class="y" href="#t4" x="2336" y="1595"/></g>
</g>

<g id="c-e3">
<g id="e3g1"><use class="g" href="#t5" x="2544" y="1206"/></g>
<g id="e3b1"><use class="b" href="#t7" x="2544" y="1276"/></g>
<g id="e3p"><use class="p" href="#tp" x="2524" y="1343"/><text class="l" font-size="12" x="2568" y="1362">not as Tech<tspan x="2568" dy="16">literate people</tspan></text></g>
<g id="e3y1"><use class="y" href="#t6" x="2515" y="1412"/></g><g id="e3y2"><use class="y" href="#t7" x="2573" y="1412"/></g>
<g id="e3y3"><use class="y" href="#t4" x="2515" y="1474"/></g><g id="e3y4"><use class="y" href="#t6" x="2573" y="1474"/></g>
</g>

<g id="c-e4">
<g id="e4g1"><use class="g" href="#t5" x="2787" y="1206"/></g>
<g id="e4b1"><use class="b" href="#t3" x="2753" y="1277"/></g><g id="e4b2"><use class="b" href="#t4" x="2814" y="1277"/></g>
<g id="e4p"><use class="p" href="#tp" x="2768" y="1343"/><text class="l" font-size="15" x="2812" y="1362">Technology<tspan x="2812" dy="19">in one's life</tspan></text></g>
<g id="e4y1"><use class="y" href="#t6" x="2730" y="1406"/></g><g id="e4y2"><use class="y" href="#t5" x="2788" y="1406"/></g><g id="e4y3"><use class="y" href="#t5" x="2846" y="1406"/></g>
<g id="e4y4"><use class="y" href="#t6" x="2730" y="1467"/></g><g id="e4y5"><use class="y" href="#t7" x="2788" y="1467"/></g><g id="e4y6"><use class="y" href="#t6" x="2846" y="1467"/></g>
<g id="e4y7"><use class="y" href="#t6" x="2730" y="1529"/></g><g id="e4y8"><use class="y" href="#t4" x="2788" y="1529"/></g><g id="e4y9"><use class="y" href="#t6" x="2846" y="1529"/></g>
<g id="e4y10"><use class="y" href="#t0" x="2730" y="1589"/><text class="s" font-size="8" x="2754" y="1602">I use my<tspan x="2754" dy="10">software</tspan><tspan x="2754" dy="10">platform</tspan><tspan x="2754" dy="10">for work (2)</tspan></text></g><g id="e4y11"><use class="y" href="#t3" x="2788" y="1589"/></g><g id="e4y12"><use class="y" href="#t0" x="2846" y="1589"/><text class="s" font-size="7.500" x="2870" y="1611">I use unique<tspan x="2870" dy="10">software (1)</tspan></text></g>
<g id="e4y13"><use class="y" href="#t0" x="2730" y="1650"/><text class="s" font-size="8" x="2754" y="1666">I frequently<tspan x="2754" dy="11">use</tspan><tspan x="2754" dy="11">software (3)</tspan></text></g><g id="e4y14"><use class="y" href="#t4" x="2788" y="1650"/></g><g id="e4y15"><use class="y" href="#t7" x="2846" y="1650"/></g>
<g id="e4y16"><use class="y" href="#t6" x="2730" y="1712"/></g><g id="e4y17"><use class="y" href="#t3" x="2788" y="1712"/></g>
</g>

<g id="c-e5">
<g id="e5b1"><use class="b" href="#t0" x="2978" y="1277"/><text class="m" font-size="11" x="3002" y="1297">White<tspan x="3002" dy="15">accents</tspan></text></g><g id="e5b2"><use class="b" href="#t0" x="3042" y="1277"/><text class="m" font-size="16" x="3066" y="1307">Blue</text></g><g id="e5b3"><use class="b" href="#t3" x="3103" y="1277"/></g>
<g id="e5p"><use class="p" href="#tp" x="3023" y="1343"/><text class="l" font-size="13" x="3067" y="1362">Color<tspan x="3067" dy="18">associations</tspan></text></g>
<g id="e5y1"><use class="y" href="#t0" x="2988" y="1409"/><text class="s" font-size="7.500" x="3012" y="1421">I associate<tspan x="3012" dy="10">the color</tspan><tspan x="3012" dy="10">yellow with</tspan><tspan x="3012" dy="10">security. (2)</tspan></text></g><g id="e5y2"><use class="y" href="#t0" x="3043" y="1409"/><text class="s" font-size="7.500" x="3067" y="1421">I associate<tspan x="3067" dy="10">the color</tspan><tspan x="3067" dy="10">black with</tspan><tspan x="3067" dy="10">security. (1)</tspan></text></g><g id="e5y3"><use class="y" href="#t0" x="3096" y="1409"/><text class="s" font-size="7.500" x="3120" y="1421">I associate<tspan x="3120" dy="10">the color</tspan><tspan x="3120" dy="10">grey with</tspan><tspan x="3120" dy="10">security. (2)</tspan></text></g>
<g id="e5y4"><use class="y" href="#t0" x="2988" y="1470"/><text class="s" font-size="8.500" x="3012" y="1486">I associate<tspan x="3012" dy="11">grey with</tspan><tspan x="3012" dy="11">security.</tspan></text></g><g id="e5y5"><use class="y" href="#t0" x="3043" y="1470"/><text class="s" font-size="7.500" x="3067" y="1482">I associate<tspan x="3067" dy="10">the color</tspan><tspan x="3067" dy="10">green with</tspan><tspan x="3067" dy="10">security. (1)</tspan></text></g><g id="e5y6"><use class="y" href="#t0" x="3096" y="1470"/><text class="s" font-size="7.500" x="3120" y="1482">I associate<tspan x="3120" dy="10">the color</tspan><tspan x="3120" dy="10">red with</tspan><tspan x="3120" dy="10">security. (1)</tspan></text></g>
<g id="e5y7"><use class="y" href="#t6" x="2988" y="1531"/></g><g id="e5y8"><use class="y" href="#t7" x="3043" y="1531"/></g><g id="e5y9"><use class="y" href="#t0" x="3096" y="1531"/><text class="s" font-size="7.500" x="3120" y="1543">I associate<tspan x="3120" dy="10">the color of</tspan><tspan x="3120" dy="10">white with</tspan><tspan x="3120" dy="10">security.</tspan></text></g>
<g id="e5y10"><use class="y" href="#t7" x="2988" y="1594"/></g>
</g>

<g id="c-e6">
<g id="e6b1"><use class="b" href="#t3" x="3280" y="1277"/></g>
<g id="e6p"><use class="p" href="#tp" x="3261" y="1343"/><text class="l" font-size="13" x="3305" y="1362">Texture<tspan x="3305" dy="18">associations</tspan></text></g>
<g id="e6y1"><use class="y" href="#t4" x="3227" y="1409"/></g><g id="e6y2"><use class="y" href="#t4" x="3280" y="1409"/></g><g id="e6y3"><use class="y" href="#t4" x="3334" y="1409"/></g>
<g id="e6y4"><use class="y" href="#t4" x="3227" y="1470"/></g><g id="e6y5"><use class="y" href="#t7" x="3280" y="1470"/></g><g id="e6y6"><use class="y" href="#t4" x="3334" y="1470"/></g>
<g id="e6y7"><use class="y" href="#t5" x="3227" y="1531"/></g><g id="e6y8"><use class="y" href="#t4" x="3280" y="1531"/></g><g id="e6y9"><use class="y" href="#t4" x="3334" y="1531"/></g>
<g id="e6y10"><use class="y" href="#t4" x="3227" y="1594"/></g>
</g>

<g id="c-e7">
<g id="e7b1"><use class="b" href="#t0" x="3450" y="1277"/><text class="m" font-size="16" x="3474" y="1307" style="font-family:'DejaVu Sans',sans-serif">✓</text></g><g id="e7b2"><use class="b" href="#t0" x="3521" y="1277"/><text class="m" font-size="10.500" x="3545" y="1291">locks<tspan x="3545" dy="13.500">and</tspan><tspan x="3545" dy="13.500">keys</tspan></text></g><g id="e7b3"><use class="b" href="#t3" x="3587" y="1277"/></g>
<g id="e7p"><use class="p" href="#tp" x="3502" y="1343"/><text class="l" font-size="13" x="3546" y="1362">form<tspan x="3546" dy="18">associations</tspan></text></g>
<g id="e7y1"><use class="y" href="#t4" x="3468" y="1409"/></g><g id="e7y2"><use class="y" href="#t4" x="3521" y="1409"/></g><g id="e7y3"><use class="y" href="#t4" x="3575" y="1409"/></g>
<g id="e7y4"><use class="y" href="#t5" x="3468" y="1470"/></g><g id="e7y5"><use class="y" href="#t4" x="3521" y="1470"/></g><g id="e7y6"><use class="y" href="#t4" x="3575" y="1470"/></g>
<g id="e7y7"><use class="y" href="#t4" x="3468" y="1531"/></g><g id="e7y8"><use class="y" href="#t4" x="3521" y="1531"/></g>
</g>

<g id="c-center">
<rect id="center-card" x="2015" y="842" width="143" height="151" rx="24" fill="#fff"/>
<g id="cp"><rect class="sh" x="2067" y="903" width="40" height="6"/><rect class="p" x="2063" y="857" width="49" height="50"/>
<path fill="#1d1a1c" d="M2082 874c1.500 0 2-2 3.500-2.500 0 1.500-1 3-2.500 3 2.500 0 3.500 1 4 2-3 2-2 5 .5 6-1 2-2.500 3.500-4 3-1-.5-1.500-.5-2.500 0-2 .5-4-3-4.500-6-.5-4 2-6 5.500-5.500z"/>
<text x="2094" y="884" style="font-family:'DejaVu Sans',sans-serif;font-size:13px;fill:#1d1a1c">♥</text></g>
<g id="cy1"><use class="y" href="#t7" x="2036" y="927"/></g><g id="cy2"><use class="y" href="#t6" x="2088" y="927"/></g>
</g>
</svg>
